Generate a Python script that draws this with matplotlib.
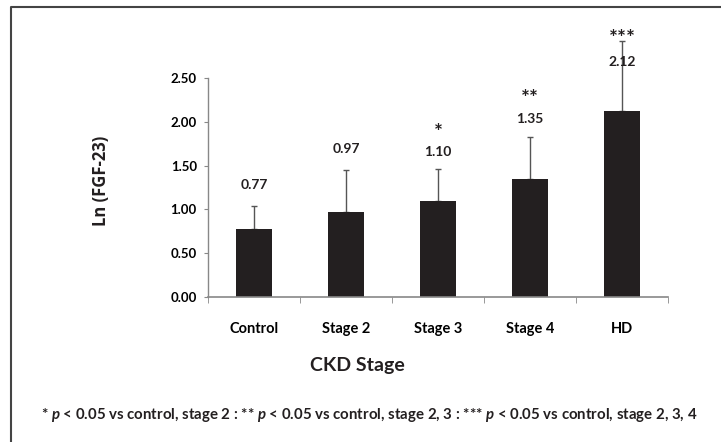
import matplotlib
matplotlib.use("Agg")
import numpy as np
import matplotlib.pyplot as plt
from matplotlib.lines import Line2D

# data
stages = ["Control", "Stage 2", "Stage 3", "Stage 4", "HD"]
means = [0.77, 0.97, 1.10, 1.35, 2.12]
sd = [0.27, 0.48, 0.36, 0.48, 0.81]
stars = ["", "", "*", "**", "***"]

# where Excel put the labels (data units)
label_y = [1.28, 1.69, 1.66, 2.03, 2.69]
star_y = [0, 0, 1.87, 2.26, 2.95]

FONT = ["Lato", "DejaVu Sans"]
plt.rcParams["font.family"] = FONT
plt.rcParams["mathtext.fontset"] = "custom"
plt.rcParams["mathtext.it"] = "Lato:italic:bold"
plt.rcParams["mathtext.rm"] = "Lato:bold"

fig = plt.figure(figsize=(7.21, 4.42), dpi=100)
ax = fig.add_axes([0.2885, 0.3287, 0.638, 0.4942])

x = np.arange(len(stages))
ax.bar(x, means, width=0.4, color="#231f20", zorder=2)
ax.errorbar(x, means, yerr=[np.zeros(len(sd)), sd], fmt="none",
            ecolor="#555555", elinewidth=1, capsize=2.5, capthick=1,
            zorder=1, clip_on=False)

for i in range(len(stages)):
    ax.text(x[i], label_y[i], f"{means[i]:.2f}", ha="center", va="center",
            fontsize=10, fontweight="bold", color="#231f20", clip_on=False)
    if stars[i]:
        ax.text(x[i], star_y[i], stars[i], ha="center", va="center",
                fontsize=15, fontweight="bold", color="#231f20", clip_on=False)

ax.set_xlim(-0.5, len(stages) - 0.5)
ax.set_ylim(0, 2.5)
ax.set_yticks(np.arange(0, 2.51, 0.5))
ax.set_yticklabels([f"{v:.2f}" for v in np.arange(0, 2.51, 0.5)],
                   fontsize=9.5, fontweight="bold")
ax.set_xticks(x)
ax.set_xticklabels(stages, fontsize=10.5, fontweight="bold")
ax.tick_params(axis="x", length=0, pad=18)
ax.set_xticks(np.arange(-0.5, len(stages)), minor=True)
ax.tick_params(axis="x", which="minor", length=4, color="#888888", direction="out")
ax.tick_params(axis="y", length=3, color="#888888", direction="out", pad=5)

for side in ["top", "right"]:
    ax.spines[side].set_visible(False)
ax.spines["left"].set_color("#888888")
ax.spines["bottom"].set_color("#888888")
ax.spines["left"].set_linewidth(1)
ax.spines["bottom"].set_linewidth(1.2)

fig.text(101 / 721, 1 - 181 / 442, "Ln (FGF-23)", rotation=90, ha="center",
         va="center", fontsize=12, fontweight="bold", family=["Open Sans", "DejaVu Sans"],
         color="#231f20")
fig.text(357 / 721, 1 - 366 / 442, "CKD Stage", ha="center", va="center",
         fontsize=14, fontweight="bold", color="#231f20")
fig.text(369 / 721, 1 - 415 / 442,
         r"* $p$ < 0.05 vs control, stage 2 : ** $p$ < 0.05 vs control, stage 2, 3 : *** $p$ < 0.05 vs control, stage 2, 3, 4",
         ha="center", va="center", fontsize=10.8, fontweight="bold", color="#231f20")

# outer frame (top and left only visible)
fig.add_artist(Line2D([11 / 721, 11 / 721, 1.0], [0.0, 1 - 7 / 442, 1 - 7 / 442],
                      transform=fig.transFigure, color="#444444", lw=1.5))

fig.savefig("out.png", dpi=100)
